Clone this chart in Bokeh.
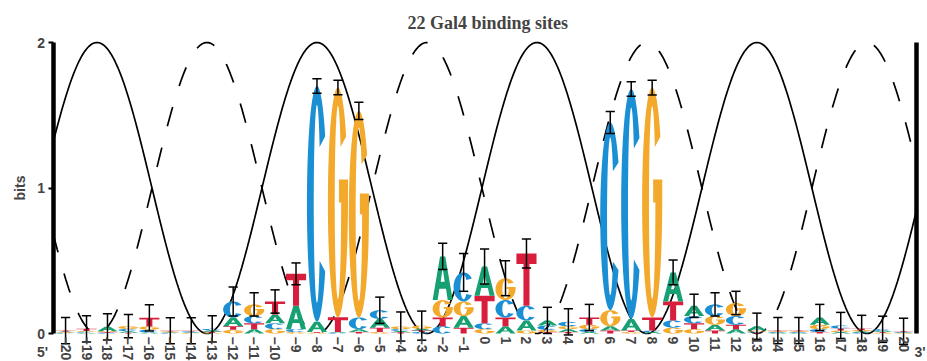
import numpy as np
from bokeh.plotting import figure
from bokeh.models import Range1d, FixedTicker, LinearAxis, Label, ColumnDataSource
from bokeh.embed import file_html
from bokeh.resources import INLINE

# ---------------- data ----------------
positions = list(range(-20, 21))
A_bits = [.006, .006, .03, .01, .006, .005, .005, .01, .06, .03, .06, .16, .07, .006, .02, .06, .01, .012, .30, .08,
          .20, .05, .07, .035, .02, .01, .03, .08, .01, .20, .07, .04, .03, .03, .005, .005, .05, .01, .008, .008, .004]
C_bits = [.004, .006, .005, .015, .02, .004, .005, .01, .11, .05, .04, .02, 1.62, .005, .08, .06, .012, .01, .05, .20,
          .04, .12, .10, .03, .03, .02, 1.29, 1.58, .01, .05, .05, .08, .06, .007, .005, .005, .02, .02, .007, .01, .004]
G_bits = [.004, .006, .006, .02, .022, .005, .004, .006, .025, .08, .03, .01, .005, 1.58, 1.42, .01, .018, .022, .12, .10,
          .03, .15, .02, .015, .02, .03, .11, .01, 1.58, .04, .03, .06, .09, .007, .005, .005, .03, .01, .008, .005, .003]
T_bits = [.006, .014, .005, .006, .06, .005, .005, .006, .025, .04, .09, .22, .006, .10, .01, .03, .008, .01, .06, .04,
          .19, .06, .36, .01, .01, .05, .02, .01, .09, .13, .04, .02, .03, .006, .005, .005, .01, .015, .012, .006, .004]
err_bits = [.09, .09, .09, .08, .09, .09, .09, .09, .10, .08, .08, .075, .05, .05, .06, .09, .10, .10, .09, .13,
            .12, .12, .10, .09, .09, .09, .075, .05, .05, .085, .08, .08, .08, .09, .09, .09, .09, .09, .09, .09, .09]
title_text = "22 Gal4 binding sites"
end_labels = ["5'", "3'"]
helix_period = 10.5     # bp per turn
solid_peak = -8.0       # phase of the solid helix-face curve
letter_colors = {"A": "#17a072", "C": "#1b8fd3", "G": "#f3a92c", "T": "#d81e3c"}

X_LO, X_HI = -20.6, 20.6          # ends of the logo (axis positions)
PX_PER_X = 20.95
PX_PER_BIT = 145.5

# ---------------- letter outlines in a unit box ----------------
def ring(a0, a1, rxo=0.5, ryo=0.5, rxi=0.16, ryi=0.42, n=60):
    t = np.radians(np.linspace(a0, a1, n))
    ox = 0.5 + rxo * np.cos(t); oy = 0.5 + ryo * np.sin(t)
    ti = t[::-1]
    ix = 0.5 + rxi * np.cos(ti); iy = 0.5 + ryi * np.sin(ti)
    return np.r_[ox, ix], np.r_[oy, iy]

shapes = {
    "A": [[(np.array([0, .37, .63, 1, .75, .665, .335, .25]), np.array([0, 1, 1, 0, 0, .26, .26, 0])),
           (np.array([.40, .5, .60]), np.array([.42, .74, .42]))]],
    "C": [[ring(35, 325)]],
    "G": [[ring(35, 360)], [(np.array([.55, 1, 1, .55]), np.array([.5, .5, .6, .6]))]],
    "T": [[(np.array([0, 1, 1, .65, .65, .35, .35, 0]), np.array([1, 1, .8, .8, 0, 0, .8, .8]))]],
}

W = 0.96
xs_all, ys_all, cols = [], [], []
tops = []
for i, pos in enumerate(positions):
    heights = {"A": A_bits[i], "C": C_bits[i], "G": G_bits[i], "T": T_bits[i]}
    y0 = 0.0
    for letter, h in sorted(heights.items(), key=lambda kv: kv[1]):
        if h <= 0:
            continue
        px, py = [], []
        for poly in shapes[letter]:
            px.append([list(pos - W / 2 + rx * W) for rx, ry in poly])
            py.append([list(y0 + ry * h) for rx, ry in poly])
        xs_all.append(px); ys_all.append(py); cols.append(letter_colors[letter])
        y0 += h
    tops.append(y0)

tops = np.array(tops); err = np.array(err_bits)

# ---------------- figure (frame fills the canvas; axes are placed at fixed data positions) ----------------
WIDTH, HEIGHT = 927, 361
left_px, base_px = 52.5, 333.0
x0 = X_LO - left_px / PX_PER_X
x1 = x0 + WIDTH / PX_PER_X
y1 = base_px / PX_PER_BIT
y0r = y1 - HEIGHT / PX_PER_BIT

p = figure(width=WIDTH, height=HEIGHT, x_range=Range1d(x0, x1), y_range=Range1d(y0r, y1),
           output_backend="svg", toolbar_location=None,
           min_border_left=0, min_border_right=0, min_border_top=0, min_border_bottom=0)
p.outline_line_color = None
p.grid.visible = False

# helix-face curves
xc = np.linspace(X_LO, X_HI, 600)
phase = 2 * np.pi * (xc - solid_peak) / helix_period
p.line(xc, 1 + np.cos(phase), line_color="black", line_width=1.7)
p.line(xc, 1 - np.cos(phase), line_color="black", line_width=1.7, line_dash="20 22")

# letters
p.multi_polygons(xs="xs", ys="ys", fill_color="c", line_color=None,
                 source=ColumnDataSource(dict(xs=xs_all, ys=ys_all, c=cols)))

# error bars
pos_arr = np.array(positions, dtype=float)
p.segment(pos_arr, tops - err, pos_arr, tops + err, line_color="black", line_width=1.5)
p.segment(pos_arr - 0.22, tops + err, pos_arr + 0.22, tops + err, line_color="black", line_width=1.5)
p.segment(pos_arr - 0.22, tops - err, pos_arr + 0.22, tops - err, line_color="black", line_width=1.5)

# x axis (position labels)
xa = p.xaxis[0]
xa.fixed_location = 0
xa.ticker = FixedTicker(ticks=positions)
xa.major_label_orientation = "vertical"
xa.axis_line_color = None
xa.major_tick_line_color = None
xa.major_tick_out = 0
xa.major_tick_in = 0
xa.minor_tick_line_color = None
xa.major_label_text_font = "Liberation Sans"
xa.major_label_text_font_style = "bold"
xa.major_label_text_font_size = "14px"
xa.major_label_standoff = 3

# left axis (bits)
ya = p.yaxis[0]
ya.fixed_location = X_LO
ya.bounds = (0, 2)
ya.ticker = FixedTicker(ticks=[0, 1, 2])
ya.axis_line_width = 4.5
ya.major_tick_out = 5
ya.major_tick_in = 0
ya.major_tick_line_width = 2
ya.minor_tick_line_color = None
ya.major_label_text_font = "Liberation Sans"
ya.major_label_text_font_style = "bold"
ya.major_label_text_font_size = "14px"
ya.major_label_standoff = 3
ya.axis_label = "bits"
ya.axis_label_text_font = "Liberation Sans"
ya.axis_label_text_font_style = "bold"
ya.axis_label_text_font_size = "14px"
ya.axis_label_standoff = 7

# right axis line
ra = LinearAxis(fixed_location=X_HI, bounds=(0, 2), ticker=FixedTicker(ticks=[]), axis_line_width=4.5,
                major_tick_line_color=None, minor_tick_line_color=None,
                major_label_text_font_size="0px")
p.add_layout(ra, "right")

# title and strand ends
p.add_layout(Label(x=0.15, y=(base_px - 22) / PX_PER_BIT, text=title_text, text_font="Liberation Serif",
                   text_font_style="bold", text_font_size="18px", text_align="center", text_baseline="middle"))
for txt, xx in zip(end_labels, (X_LO - 0.5, X_HI + 0.19)):
    p.add_layout(Label(x=xx, y=-(351 - base_px) / PX_PER_BIT, text=txt, text_font="Liberation Sans",
                       text_font_style="bold", text_font_size="14px", text_align="center",
                       text_baseline="middle"))

open("out.html", "w").write(file_html(p, INLINE))
